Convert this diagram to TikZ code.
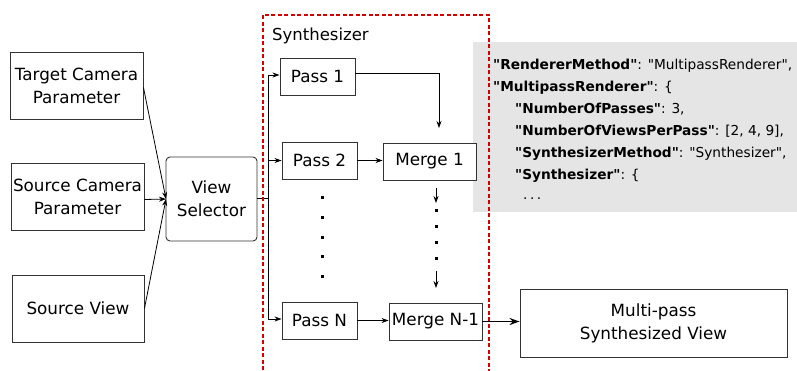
\documentclass[tikz,border=0pt]{standalone}
\usepackage{fontspec}
\setmainfont{DejaVu Sans}
% plain family without the TeX quote mapping, for straight JSON quotes
\newfontfamily\jsonfont{DejaVu Sans}
\usetikzlibrary{arrows.meta}
\definecolor{framered}{HTML}{D40000}
\definecolor{edge}{HTML}{333333}
\begin{document}
\begin{tikzpicture}[x=1pt,y=-1pt,
  box/.style={draw=edge, fill=white, line width=0.9pt, align=center, inner sep=0pt,
    font=\fontsize{16.8}{23}\selectfont},
  arr/.style={-{Stealth[length=7pt,width=5pt]}, line width=0.8pt, draw=black},
  wire/.style={line width=0.8pt, draw=black},
  dotmark/.style={fill=black, minimum size=3pt, inner sep=0pt},
  json/.style={anchor=base west, inner sep=0pt, font=\jsonfont\fontsize{13.7}{15}\selectfont},
]
\clip (0,0) rectangle (797,370);

% settings panel
\fill[gray!20] (473,42) rectangle (800,212);
\node[json] (j1) at (493,69) {\textbf{"RendererMethod"}: "MultipassRenderer",};
\node[json] (j2) at (493,91) {\textbf{"MultipassRenderer"}: \{};
\node[json] (j3) at (515,113) {\textbf{"NumberOfPasses"}: 3,};
\node[json] (j4) at (515,135) {\textbf{"NumberOfViewsPerPass"}: [2, 4, 9],};
\node[json] (j5) at (515,157) {\textbf{"SynthesizerMethod"}: "Synthesizer",};
\node[json] (j6) at (515,179) {\textbf{"Synthesizer"}: \{};
\node[json] (j7) at (523,199) {.\kern2.5pt.\kern2.5pt.};

% inputs
\node[box, minimum width=133pt, minimum height=67pt] (tcp) at (76.5,85.5) {Target Camera\\Parameter};
\node[box, minimum width=133pt, minimum height=67pt] (scp) at (77.5,196.5) {Source Camera\\Parameter};
\node[box, minimum width=132pt, minimum height=67pt] (sv) at (78,308.5) {Source View};
\node[box, rounded corners=4pt, minimum width=91pt, minimum height=84pt] (vs) at (211.5,199) {View\\Selector};

\coordinate (vin) at (166,199);
\draw[arr] (tcp.east) ++(0,2) -- (vin);
\draw[arr] (scp.east) ++(0,3) -- (vin);
\draw[arr] (sv.east) -- (vin);

% synthesizer passes
\node[box, minimum width=75pt, minimum height=37pt] (pass1) at (317.5,76.5) {Pass 1};
\node[box, minimum width=75pt, minimum height=37pt] (pass2) at (319.5,160.5) {Pass 2};
\node[box, minimum width=75pt, minimum height=37pt] (passN) at (319.5,320.5) {Pass N};
\node[box, minimum width=93pt, minimum height=37pt] (merge1) at (429.5,161.5) {Merge 1};
\node[box, minimum width=93pt, minimum height=37pt] (mergeN) at (435.5,321.5) {Merge N-1};
\node[box, minimum width=267pt, minimum height=68pt] (out) at (653.5,323) {Multi-pass\\Synthesized View};

\node[anchor=west, inner sep=0pt, font=\fontsize{16.5}{19}\selectfont] (synlabel) at (272,36) {Synthesizer};

% distribution bus
\coordinate (bm) at (268,198);
\coordinate (b1) at (268,75);
\coordinate (b2) at (268,160.5);
\coordinate (bN) at (268,319);
\draw[wire] (vs.east |- bm) -- (bm);
\draw[wire] (b1) -- (bN);
\draw[arr] (b1) -- (b1 -| pass1.west);
\draw[arr] (b2) -- (pass2.west);
\draw[arr] (bN) -- (bN -| passN.west);

% merges
\coordinate (c1) at (439,73);
\coordinate (m1in) at (439,128);
\draw[arr] (pass1.east |- c1) -- (c1) -- (m1in);
\draw[arr] (pass2.east) -- (pass2.east -| merge1.west);
\draw[arr] (passN.east) -- (passN.east -| mergeN.west);

\coordinate (a1s) at (436,188);
\coordinate (a1e) at (436,203);
\coordinate (a2s) at (436,271);
\coordinate (a2e) at (436,288);
\draw[arr] (a1s) -- (a1e);
\draw[arr] (a2s) -- (a2e);

% elided passes
\node[dotmark] (p1) at (322,197) {};
\node[dotmark] (p2) at (322,217) {};
\node[dotmark] (p3) at (322,237) {};
\node[dotmark] (p4) at (322,256) {};
\node[dotmark] (p5) at (322,276) {};
\node[dotmark] (q1) at (436,210) {};
\node[dotmark] (q2) at (436,226) {};
\node[dotmark] (q3) at (436,242) {};
\node[dotmark] (q4) at (436,258) {};

% final output
\draw[-{Stealth[length=10pt,width=7pt]}, line width=1.8pt] (mergeN.east) -- (mergeN.east -| out.west);

% synthesizer frame
\draw[framered, line width=2.5pt, dash pattern=on 4pt off 2.5pt] (263,15) rectangle (489,380);
\end{tikzpicture}
\end{document}
